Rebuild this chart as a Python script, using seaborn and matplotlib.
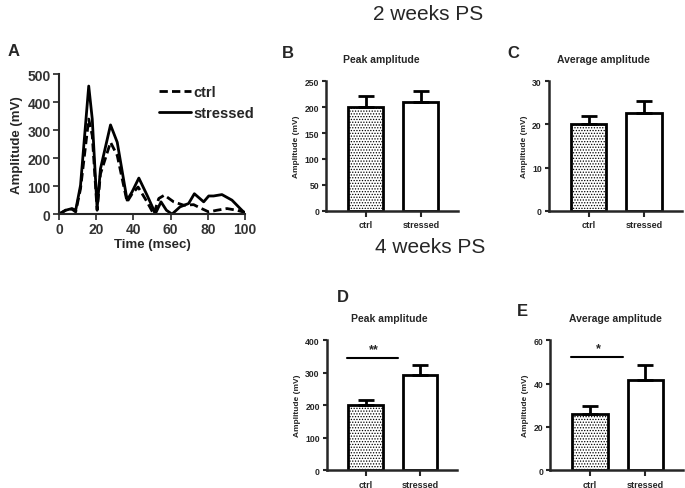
import numpy as np
import pandas as pd
import seaborn as sns
import matplotlib.pyplot as plt

sns.set_style("ticks")
plt.rcParams['font.family'] = ['Liberation Sans', 'DejaVu Sans']
plt.rcParams['hatch.linewidth'] = 0.6

### Panel A traces
time_stressed = [0, 3.6, 7, 9, 11.6, 16, 17.9, 20.5, 22.3, 27.7, 31.3, 36.6, 39.3, 42.9,
                 47.3, 51.8, 54.8, 57.7, 60.7, 65, 69.6, 72.7, 77.7, 80.4, 83, 87.5, 92.9, 97.3, 100]
amp_stressed = [0, 14, 20, 14, 103, 458, 340, 20, 162, 319, 257, 50, 80, 129,
                68, 2, 44, 14, 0, 26, 38, 73, 44, 65, 65, 70, 50, 20, 2]
time_ctrl = [0, 3.6, 7, 9, 11.6, 16, 17.9, 20.5, 22.3, 27.7, 31.3, 36.6, 39.3, 42.5,
             47.3, 50.9, 53.6, 56.6, 61.6, 67, 72.3, 75.9, 80.4, 84.8, 90.2, 95.5, 100]
amp_ctrl = [0, 14, 18, 8, 91, 340, 281, 14, 144, 257, 210, 44, 73, 97,
            44, 0, 56, 68, 44, 32, 34, 22, 8, 14, 20, 14, 6]

### Bar panels
groups = ["ctrl", "stressed"]
peak_2w = [200, 210]
peak_2w_err = [22, 22]
avg_2w = [20.2, 22.7]
avg_2w_err = [1.8, 2.7]
peak_4w = [200, 293]
peak_4w_err = [15, 30]
avg_4w = [26, 41.5]
avg_4w_err = [3.5, 7]

fig = plt.figure(figsize=(6.85, 4.89), dpi=100)

# %% panel A
axA = fig.add_axes([0.086, 0.560, 0.272, 0.286])
dfc = pd.DataFrame({"t": time_ctrl, "a": amp_ctrl})
dfs = pd.DataFrame({"t": time_stressed, "a": amp_stressed})
sns.lineplot(data=dfc, x="t", y="a", ax=axA, color="black", lw=2, linestyle=(0, (3, 1.5)), label="ctrl")
sns.lineplot(data=dfs, x="t", y="a", ax=axA, color="black", lw=2, label="stressed")
axA.set_xlim(0, 100)
axA.set_ylim(0, 500)
axA.set_xticks(range(0, 101, 20))
axA.set_yticks(range(0, 501, 100))
axA.set_xlabel("Time (msec)", fontsize=9.5, fontweight="bold", labelpad=1)
axA.set_ylabel("Amplitude (mV)", fontsize=9.5, fontweight="bold", labelpad=3)
for lab in axA.get_xticklabels() + axA.get_yticklabels():
    lab.set_fontweight("bold")
    lab.set_color("#333333")
axA.tick_params(labelsize=10, width=1.2, length=4, pad=2)
for s in ["left", "bottom"]:
    axA.spines[s].set_linewidth(1.5)
sns.despine(ax=axA)
axA.legend(frameon=False, loc="upper right", bbox_to_anchor=(1.12, 1.02), handlelength=2.2,
           handletextpad=0.2, labelspacing=0.5, prop={"size": 10.5, "weight": "bold"})
fig.text(8 / 685, 1 - 52 / 489, "A", fontsize=12, fontweight="bold", va="center")


def bar_panel(rect, means, errs, ymax, ystep, title, title_x, letter, letter_xy, sig=None):
    ax = fig.add_axes(rect)
    df = pd.DataFrame({"g": groups, "v": means})
    sns.barplot(data=df, x="g", y="v", ax=ax, color="white", edgecolor="black",
                linewidth=2, width=0.64, errorbar=None)
    ax.patches[0].set_hatch("......")
    ax.errorbar([0, 1], means, yerr=[[0, 0], errs], fmt="none", ecolor="black",
                elinewidth=2, capsize=6, capthick=2)
    ax.set_xlim(-0.72, 1.68)
    ax.set_ylim(0, ymax)
    ax.set_yticks(np.arange(0, ymax + 1, ystep))
    ax.set_xlabel("")
    ax.set_ylabel("Amplitude (mV)", fontsize=6, fontweight="bold", labelpad=3)
    ax.set_title(title, fontsize=7.5, fontweight="bold", pad=14, x=title_x)
    ax.tick_params(axis="y", labelsize=6.2, width=1.5, length=3, pad=2)
    ax.tick_params(axis="x", labelsize=6.5, width=1.5, length=4, pad=3)
    for lab in ax.get_xticklabels() + ax.get_yticklabels():
        lab.set_fontweight("bold")
    for s in ["left", "bottom"]:
        ax.spines[s].set_linewidth(1.8)
    sns.despine(ax=ax)
    if sig is not None:
        y, txt = sig
        ax.plot([-0.35, 0.6], [y, y], color="black", lw=1.5, clip_on=False)
        ax.text(0.15, y + ymax * 0.02, txt, ha="center", va="bottom", fontsize=9, fontweight="bold")
    fig.text(letter_xy[0] / 685, 1 - letter_xy[1] / 489, letter, fontsize=12,
             fontweight="bold", va="center")
    return ax


bar_panel([0.476, 0.567, 0.193, 0.2646], peak_2w, peak_2w_err, 250, 50,
          "Peak amplitude", 0.42, "B", (282, 53))
bar_panel([0.801, 0.567, 0.194, 0.2646], avg_2w, avg_2w_err, 30, 10,
          "Average amplitude", 0.41, "C", (507, 53))
bar_panel([0.477, 0.0368, 0.19, 0.265], peak_4w, peak_4w_err, 400, 100,
          "Peak amplitude", 0.48, "D", (337, 297), sig=(345, "**"))
bar_panel([0.803, 0.0368, 0.194, 0.265], avg_4w, avg_4w_err, 60, 20,
          "Average amplitude", 0.49, "E", (517, 312), sig=(52.4, "*"))

fig.text(428 / 685, 1 - 14 / 489, "2 weeks PS", fontsize=15, ha="center", va="center")
fig.text(430 / 685, 1 - 248 / 489, "4 weeks PS", fontsize=15, ha="center", va="center")

fig.savefig("out.png", dpi=100)
